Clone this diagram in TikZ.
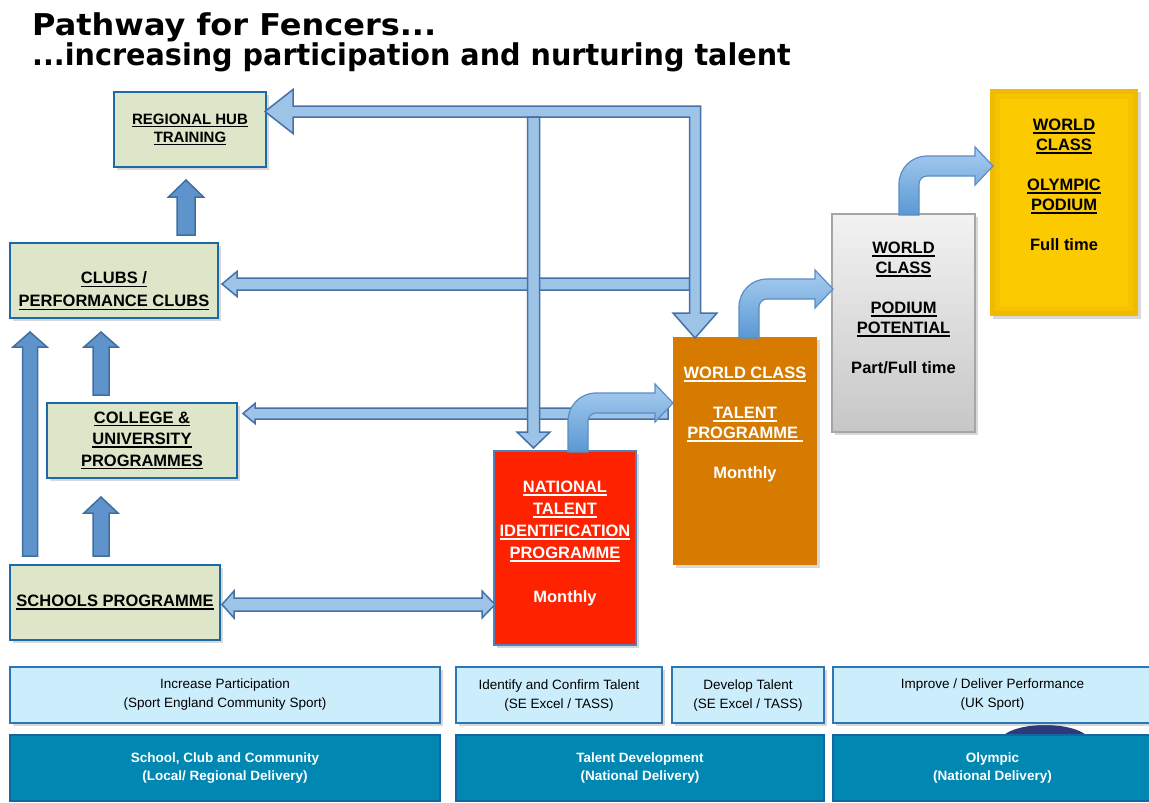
\documentclass[tikz,border=0pt]{standalone}
\usepackage{fontspec}
\setmainfont{Liberation Sans}
\newfontfamily\titlefont{DejaVu Sans}
\usetikzlibrary{shadows}
\definecolor{gfill}{HTML}{DEE6C9}
\definecolor{gdraw}{HTML}{1E6AA8}
\definecolor{arrfill}{HTML}{9DC3E6}
\definecolor{arrdraw}{HTML}{4472A8}
\definecolor{darrfill}{HTML}{5E93CB}
\definecolor{darrdraw}{HTML}{3F6F9F}
\definecolor{cartop}{HTML}{A8CDF0}
\definecolor{carbot}{HTML}{5A98D3}
\definecolor{cardraw}{HTML}{5A8DC4}
\definecolor{redfill}{HTML}{FF2200}
\definecolor{redline}{HTML}{4F81BD}
\definecolor{orfill}{HTML}{D67A00}
\definecolor{yelout}{HTML}{F0BA00}
\definecolor{yelmid}{HTML}{F6C300}
\definecolor{yelin}{HTML}{FCCA00}
\definecolor{lfill}{HTML}{CCEEFC}
\definecolor{ldraw}{HTML}{2E75B6}
\definecolor{dfill}{HTML}{0088B2}
\definecolor{ddraw}{HTML}{1565A0}
\definecolor{navy}{HTML}{2B3A7A}
\newcommand\ulb[1]{\setbox0\hbox{#1}\rlap{\rule[-3pt]{\wd0}{1.4pt}}\box0}
\newcommand\uparr[7]{% style, x, ytip, ybot, shaft half, head half, head length
  \path[#1] ({#2-#5},#4) -- ({#2-#5},{#3+#7}) -- ({#2-#6},{#3+#7}) -- (#2,#3)
    -- ({#2+#6},{#3+#7}) -- ({#2+#5},{#3+#7}) -- ({#2+#5},#4) -- cycle;}
\newcommand\leftarr[7]{% style, y, xtip, xend, shaft half, head half, head length
  \path[#1] (#4,{#2-#5}) -- ({#3+#7},{#2-#5}) -- ({#3+#7},{#2-#6}) -- (#3,#2)
    -- ({#3+#7},{#2+#6}) -- ({#3+#7},{#2+#5}) -- (#4,{#2+#5}) -- cycle;}
\newcommand\bentarr[4]{% xc, ybottom, yc, xtip
  \path[carrow] ({#1-10},#2) -- ({#1-10},{#3+18})
    .. controls ({#1-10},{#3+2.5}) and ({#1+2.5},{#3-10}) .. ({#1+18},{#3-10})
    -- ({#4-18},{#3-10}) -- ({#4-18},{#3-19}) -- (#4,#3) -- ({#4-18},{#3+19})
    -- ({#4-18},{#3+10}) -- ({#1+18},{#3+10})
    .. controls ({#1+13.6},{#3+10}) and ({#1+10},{#3+13.6}) .. ({#1+10},{#3+18})
    -- ({#1+10},#2) -- cycle;}
\tikzset{
  shad/.style={drop shadow={shadow xshift=2.5pt, shadow yshift=-2.5pt, opacity=0.3}},
  gbox/.style={draw=gdraw, line width=2.4pt, fill=gfill, inner sep=0pt, shad,
    font=\fontsize{16.5}{21.5}\selectfont\bfseries, align=center},
  tall/.style={inner sep=0pt, shad},
  lbl/.style={inner sep=0pt, align=center, font=\fontsize{16.5}{20}\selectfont\bfseries},
  lbox/.style={draw=ldraw, line width=2pt, fill=lfill, inner sep=0pt, shad, align=center,
    font=\fontsize{13.5}{19}\selectfont, minimum height=56},
  dbox/.style={draw=ddraw, line width=2pt, fill=dfill, inner sep=0pt, align=center,
    text=white, font=\fontsize{13.5}{18.5}\selectfont\bfseries, minimum height=66},
  barrow/.style={fill=arrfill, draw=arrdraw, line width=1.5pt, line join=miter},
  darrow/.style={fill=darrfill, draw=darrdraw, line width=1.5pt, line join=miter},
  carrow/.style={top color=cartop, bottom color=carbot, draw=cardraw, line width=1.2pt},
  ttl/.style={anchor=base west, inner sep=0pt, font=\titlefont\fontsize{30}{30}\bfseries}
}
\begin{document}
\begin{tikzpicture}[x=1pt,y=-1pt]
\useasboundingbox (0,0) rectangle (1149,803);
\fill[white] (0,0) rectangle (1149,803);
% title
\node[ttl] (t1) at (32,35) {\scalebox{1.066}[1]{Pathway for Fencers...}};
\node[ttl] (t2) at (32,65) {\scalebox{0.955}[1]{...increasing participation and nurturing talent}};
% left boxes
\node[gbox, minimum width=152, minimum height=75, font=\fontsize{15}{18}\selectfont\bfseries] (hub) at (190,129.5) {\ulb{REGIONAL HUB}\\\ulb{TRAINING}};
\node[gbox, minimum width=208, minimum height=75] (clubs) at (114,280.5) {};
\node[lbl, font=\fontsize{16.5}{23}\selectfont\bfseries] (clubstxt) at (114,291) {\ulb{CLUBS /}\\\ulb{PERFORMANCE CLUBS}};
\node[gbox, minimum width=190, minimum height=75] (college) at (142,440.5) {\ulb{COLLEGE \&}\\\ulb{UNIVERSITY}\\\ulb{PROGRAMMES}};
\node[gbox, minimum width=210, minimum height=75] (schools) at (115,602.5) {\ulb{SCHOOLS PROGRAMME}};
% tall boxes
\node[tall, fill=redfill, draw=redline, line width=1.5pt, minimum width=142, minimum height=194] (ntip) at (565,548) {};
\node[lbl, text=white, anchor=north, font=\fontsize{16.5}{22}\selectfont\bfseries] (ntiptxt) at (565,481) {\ulb{NATIONAL}\\\ulb{TALENT}\\\ulb{IDENTIFICATION}\\\ulb{PROGRAMME}\\[22pt]Monthly};
\node[tall, fill=orfill, minimum width=144, minimum height=228] (wctp) at (745,451) {};
\node[lbl, text=white, anchor=north] (wctptxt) at (745,367) {\ulb{WORLD CLASS}\\[20pt]\ulb{TALENT}\\\ulb{PROGRAMME }\\[20pt]Monthly};
\node[tall, top color=black!5, bottom color=black!22, draw=black!35, line width=1.5pt, minimum width=143, minimum height=218] (wcpp) at (903.5,323) {};
\node[lbl, anchor=north] (wcpptxt) at (903.5,242) {\ulb{WORLD}\\\ulb{CLASS}\\[20pt]\ulb{PODIUM}\\\ulb{POTENTIAL}\\[20pt]Part/Full time};
\node[tall, fill=yelout, minimum width=148, minimum height=227] (wcop) at (1064,202.5) {};
\fill[yelmid] ([xshift=5pt,yshift=-5pt]wcop.north west) rectangle ([xshift=-5pt,yshift=5pt]wcop.south east);
\fill[yelin] ([xshift=10pt,yshift=-10pt]wcop.north west) rectangle ([xshift=-10pt,yshift=10pt]wcop.south east);
\node[lbl, anchor=north] (wcoptxt) at (1064,119) {\ulb{WORLD}\\\ulb{CLASS}\\[20pt]\ulb{OLYMPIC}\\\ulb{PODIUM}\\[20pt]Full time};
% straight block arrows
\leftarr{barrow}{284}{222}{689.5}{6}{12.5}{15}
\leftarr{barrow}{413.5}{243}{668}{5.5}{10}{12}
\path[barrow] (265,111.5) -- (293,89.5) -- (293,106) -- (700.5,106) -- (700.5,313)
  -- (717,313) -- (695,338) -- (673,313) -- (689.5,313) -- (689.5,117) -- (293,117)
  -- (293,133.5) -- cycle;
\path[barrow] (527.5,117) -- (527.5,432) -- (517,432) -- (533.5,448) -- (550,432)
  -- (539.5,432) -- (539.5,117) -- cycle;
\path[barrow] (222,604.5) -- (234,591) -- (234,598) -- (482,598) -- (482,591) -- (495,604.5)
  -- (482,618) -- (482,611) -- (234,611) -- (234,618) -- cycle;
\uparr{darrow}{30}{332}{556}{7.5}{17}{15}
\uparr{darrow}{101}{332}{395}{8}{17}{15}
\uparr{darrow}{101}{497}{556}{8}{17}{16}
\uparr{darrow}{186}{180}{235}{9}{17.5}{17}
% bent arrows
\bentarr{578}{452}{403}{673}
\bentarr{749}{338}{289}{833}
\bentarr{909}{215}{166}{993}
% bottom rows
\fill[navy] (1045,742) ellipse [x radius=45, y radius=17];
\node[lbox, minimum width=430] (p1) at (225,695) {Increase Participation\\(Sport England Community Sport)};
\node[lbox, minimum width=206] (p2) at (559,695) {Identify and Confirm Talent\\(SE Excel / TASS)};
\node[lbox, minimum width=152] (p3) at (748,695) {Develop Talent\\(SE Excel / TASS)};
\node[lbox, minimum width=319] (p4) at (992.5,695) {Improve / Deliver Performance\\(UK Sport)};
\node[dbox, minimum width=430] (d1) at (225,768) {School, Club and Community\\(Local/ Regional Delivery)};
\node[dbox, minimum width=368] (d2) at (640,768) {Talent Development\\(National Delivery)};
\node[dbox, minimum width=319] (d3) at (992.5,768) {Olympic\\(National Delivery)};
\end{tikzpicture}
\end{document}
